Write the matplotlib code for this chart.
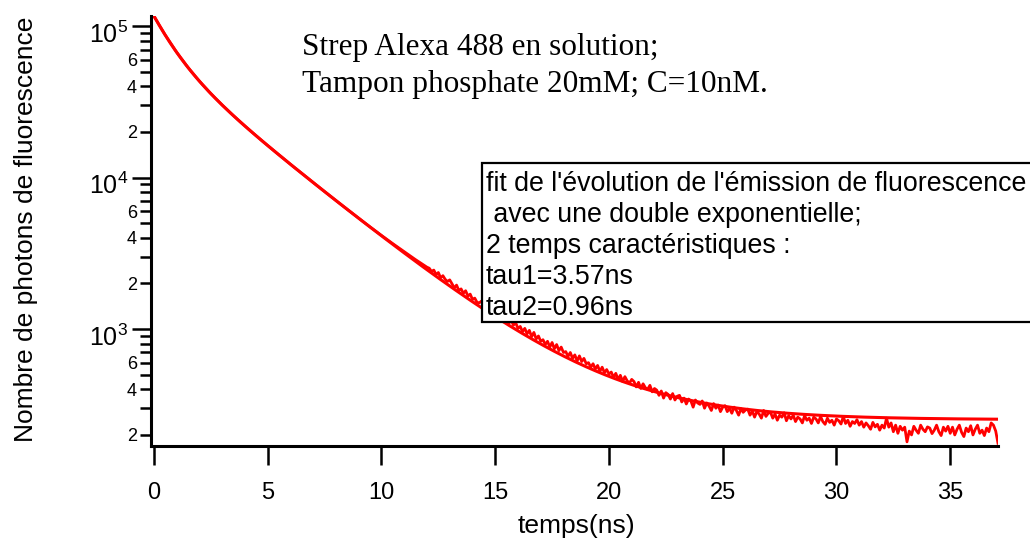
import numpy as np
import matplotlib
matplotlib.use('Agg')
import matplotlib.pyplot as plt
import matplotlib.transforms as mtransforms
from matplotlib.ticker import LogLocator, FuncFormatter
from matplotlib.patches import Rectangle

plt.rcParams['font.family'] = ['Liberation Sans', 'DejaVu Sans']
plt.rcParams['mathtext.fontset'] = 'custom'
plt.rcParams['mathtext.rm'] = 'Liberation Sans'
plt.rcParams['mathtext.it'] = 'Liberation Sans:italic'

# Mesure : debut du declin, un point toutes les 0.5 ns
t_debut = [0.0, 0.5, 1.0, 1.5, 2.0, 2.5, 3.0, 3.5, 4.0, 4.5, 5.0, 5.5,
           6.0, 6.5, 7.0, 7.5, 8.0, 8.5, 9.0, 9.5, 10.0, 10.5, 11.0, 11.5]
n_debut = [116000, 87150, 67140, 53250, 43270, 35830, 30110, 25570,
           21880, 18830, 16270, 14100, 12240, 10650, 9270, 8080,
           7050, 6160, 5390, 4720, 4150, 3660, 3240, 2870]

# Mesure : queue bruitee, un point toutes les 0.1 ns a partir de 12 ns
t0_queue = 12.0
dt_queue = 0.1
n_queue = [2560,
           2520, 2400, 2450, 2290, 2360, 2180, 2250, 2130, 2060, 2110,
           1990, 1870, 1950, 1800, 1840, 1720, 1790, 1650, 1700, 1570,
           1600, 1500, 1490, 1530, 1400, 1450, 1340, 1380, 1290, 1330,
           1240, 1200, 1250, 1140, 1190, 1090, 1150, 1060, 1100, 1010,
           1040, 960, 1010, 930, 980, 890, 950, 860, 900, 830,
           850, 790, 830, 760, 815, 740, 790, 720, 760, 700,
           710, 660, 700, 640, 675, 615, 665, 610, 640, 590,
           600, 560, 590, 545, 575, 525, 560, 515, 540, 505,
           520, 480, 510, 465, 495, 450, 485, 455, 440, 465,
           450, 415, 445, 405, 435, 410, 400, 425, 385, 405,
           395, 365, 390, 350, 380, 370, 345, 375, 340, 360,
           365, 330, 350, 320, 345, 335, 305, 340, 325, 318,
           335, 300, 325, 310, 290, 322, 300, 315, 285, 305,
           312, 285, 300, 278, 305, 290, 270, 298, 282, 292,
           296, 270, 288, 262, 285, 275, 258, 290, 265, 278,
           282, 258, 275, 250, 270, 262, 280, 248, 268, 255,
           270, 245, 262, 255, 240, 268, 250, 258, 238, 262,
           255, 240, 265, 245, 235, 258, 242, 250, 232, 255,
           248, 236, 265, 238, 250, 228, 245, 238, 252, 232,
           245, 225, 240, 230, 218, 242, 226, 235, 215, 232,
           222, 258, 225, 240, 210, 232, 205, 228, 215, 225,
           180, 212, 200, 228, 215, 205, 232, 218, 210, 226,
           222, 204, 215, 232, 210, 198, 225, 212, 228, 205,
           225, 200, 218, 232, 208, 195, 222, 210, 230, 200,
           218, 232, 205, 215, 198, 222, 210, 240, 232, 212,
           176]

# Parametres du fit double exponentielle
tau1 = 3.57
tau2 = 0.96
A1 = 63750
A2 = 52500
C = 252

t_queue = t0_queue + dt_queue * np.arange(len(n_queue))
t_mes = np.concatenate([t_debut, t_queue])
n_mes = np.concatenate([n_debut, n_queue])

t_fit = np.linspace(0, t_queue[-1], 800)
n_fit = A1 * np.exp(-t_fit / tau1) + A2 * np.exp(-t_fit / tau2) + C

W, H = 1030, 540
fig = plt.figure(figsize=(W / 100, H / 100), dpi=100)
ax = fig.add_axes([151 / W, 1 - 446 / H, (998 - 151) / W, (446 - 16) / H])

ax.plot(t_mes, n_mes, color='red', lw=2.0, zorder=2)
ax.plot(t_fit, n_fit, color='red', lw=2.2, zorder=2)

ax.set_yscale('log')
ax.set_xlim(-0.13, 37.1)
ax.set_ylim(169, 116500)

for side in ['top', 'right']:
    ax.spines[side].set_visible(False)
for side in ['left', 'bottom']:
    ax.spines[side].set_linewidth(2.2)

ax.set_xticks([0, 5, 10, 15, 20, 25, 30, 35])
ax.tick_params(axis='x', which='major', direction='out', length=13.5, width=1.8,
               labelsize=17, pad=12.5)

ax.yaxis.set_major_locator(LogLocator(base=10, subs=[1.0]))
ax.yaxis.set_minor_locator(LogLocator(base=10, subs=np.arange(2, 10)))
ax.yaxis.set_major_formatter(FuncFormatter(
    lambda v, p: r'$\mathregular{10^{%d}}$' % round(np.log10(v))))


def mantisse(v, p):
    m = int(round(v / 10 ** np.floor(np.log10(v))))
    return str(m) if m in (2, 4, 6) else ''


ax.yaxis.set_minor_formatter(FuncFormatter(mantisse))
ax.tick_params(axis='y', which='major', direction='out', length=13.5, width=1.8,
               labelsize=18, pad=3)
ax.tick_params(axis='y', which='minor', direction='out', length=8, width=1.8,
               labelsize=13, pad=2)

# les puissances de 10 sont un peu sous leur graduation
decalage = mtransforms.ScaledTranslation(0, -6 / 100, fig.dpi_scale_trans)
for lab in ax.yaxis.get_majorticklabels():
    lab.set_transform(lab.get_transform() + decalage)

# Titres des axes
fig.text(576 / W, 1 - 533 / H, 'temps(ns)', fontsize=19, ha='center', va='baseline')
fig.text(33 / W, 1 - 229 / H, 'Nombre de photons de fluorescence', fontsize=19,
         rotation=90, rotation_mode='anchor', ha='center', va='baseline')

# Conditions de la mesure
for y, ligne in zip([55, 92], ['Strep Alexa 488 en solution;',
                               'Tampon phosphate 20mM; C=10nM.']):
    fig.text(302 / W, 1 - y / H, ligne, fontsize=22.5, family='Liberation Serif',
             ha='left', va='baseline')

# Encadre du fit
cadre = Rectangle((482 / W, 1 - 322 / H), 600 / W, (322 - 163) / H,
                  transform=fig.transFigure, facecolor='white', edgecolor='black',
                  lw=1.6, zorder=5, clip_on=False)
fig.add_artist(cadre)
lignes = ["fit de l'évolution de l'émission de fluorescence",
          " avec une double exponentielle;",
          "2 temps caractéristiques :",
          f"tau1={tau1:.2f}ns",
          f"tau2={tau2:.2f}ns"]
for i, ligne in enumerate(lignes):
    fig.text(486 / W, 1 - (191 + 31.0 * i) / H, ligne, fontsize=19.3,
             ha='left', va='baseline', zorder=6)

fig.savefig('out.png', dpi=100)
